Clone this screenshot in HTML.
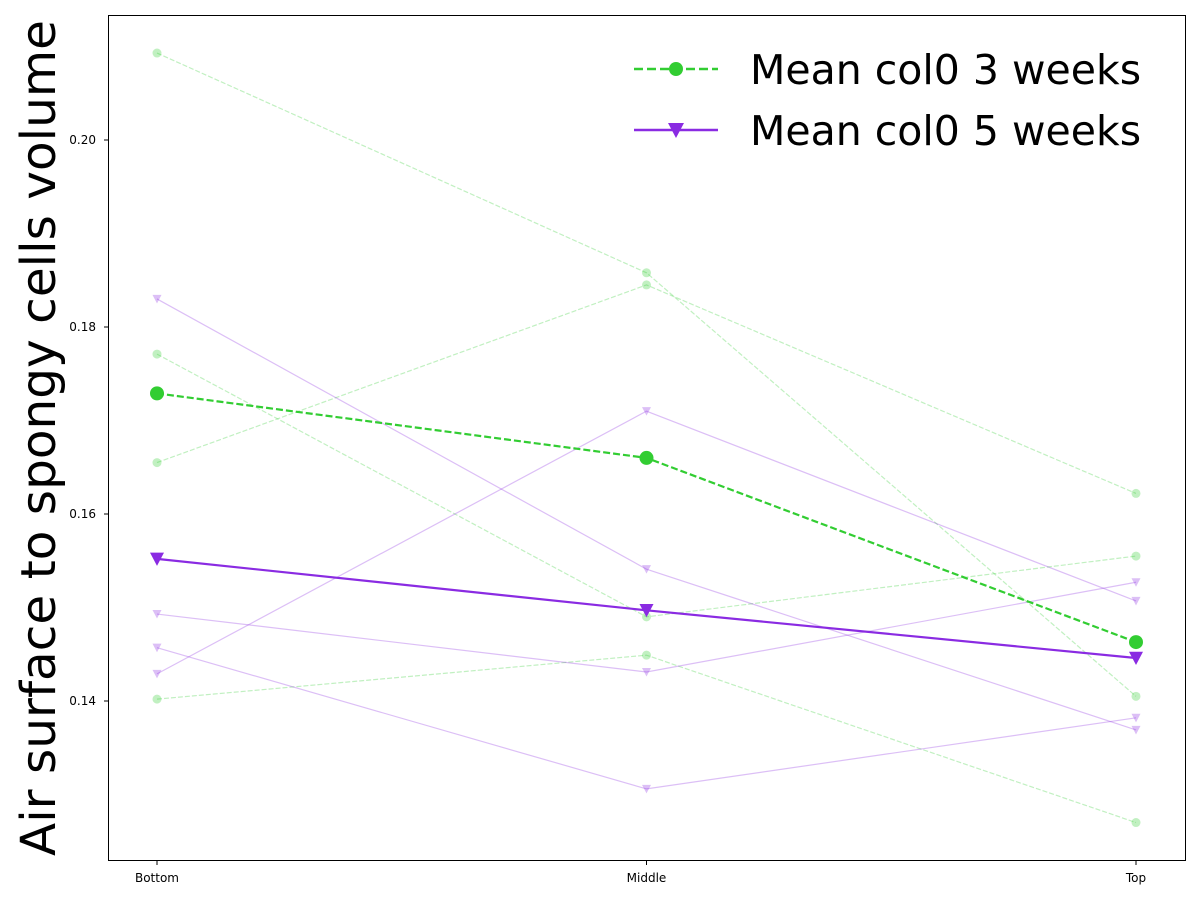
<!DOCTYPE html>
<html><head><meta charset="utf-8"><style>
body{margin:0;background:#fff;}
svg{display:block;font-family:"DejaVu Sans","Liberation Sans",sans-serif;}
</style></head><body>
<svg id="chart" width="1200" height="900" xmlns="http://www.w3.org/2000/svg">
<rect x="0" y="0" width="1200" height="900" fill="#fff"/>
<g id="plot"></g>
<rect x="108.5" y="15.5" width="1077" height="845" fill="none" stroke="#000" stroke-width="1"/>
<text transform="translate(55,438) rotate(-90)" text-anchor="middle" font-size="48.5">Air surface to spongy cells volume</text>
<g>
<g>
<line x1="634" y1="69" x2="718" y2="69" stroke="#32cd32" stroke-width="2.5" stroke-dasharray="9,4"/>
<circle cx="676" cy="69" r="7" fill="#32cd32"/>
<text x="750" y="84" font-size="41">Mean col0 3 weeks</text>
</g>
<g>
<line x1="634" y1="130" x2="718" y2="130" stroke="#8a2be2" stroke-width="2.5"/>
<path d="M668,123 L684,123 L676,138 Z" fill="#8a2be2"/>
<text x="750" y="145" font-size="41">Mean col0 5 weeks</text>
</g>
</g>
</svg>
<script>
const categories=["Bottom","Middle","Top"];
const yTicks=[0.14,0.16,0.18,0.20];
const green1=[0.2093,0.1858,0.1405];
const green2=[0.1655,0.1845,0.1622];
const green3=[0.1771,0.1490,0.1555];
const green4=[0.1402,0.1449,0.1270];
const greenMean=[0.1729,0.1660,0.1463];
const purple1=[0.1830,0.1541,0.1369];
const purple2=[0.1429,0.1710,0.1507];
const purple3=[0.1493,0.1431,0.1527];
const purple4=[0.1457,0.1306,0.1382];
const purpleMean=[0.1552,0.1497,0.1446];

const NS="http://www.w3.org/2000/svg";
const g=document.getElementById('plot');
function xs(i){return 157+i*489.5;}
function ys(v){return 701-(v-0.14)*9350;}
function mk(t,a){const e=document.createElementNS(NS,t);for(const k in a)e.setAttribute(k,a[k]);g.appendChild(e);return e;}

yTicks.forEach(t=>{
  const l=mk('line',{x1:104,x2:108,y1:ys(t),y2:ys(t),stroke:'#000'});
  
  
  const tx=mk('text',{x:96,y:ys(t)+4,'text-anchor':'end','font-size':12});
  
  
  tx.textContent=t.toFixed(2);
});
categories.forEach((c,i)=>{
  const l=mk('line',{x1:xs(i),x2:xs(i),y1:861,y2:865,stroke:'#000'});
  
  
  const tx=mk('text',{x:xs(i),y:882,'text-anchor':'middle','font-size':12});
  
  
  tx.textContent=c;
});

function series(vals,color,dash,width,marker,size,op,name){
  const pts=vals.map((v,i)=>xs(i)+','+ys(v)).join(' ');
  const pl=mk('polyline',{points:pts,fill:'none',stroke:color,'stroke-width':width,'stroke-dasharray':dash,opacity:op});
  
  
  vals.forEach((v,i)=>{
    const x=xs(i),y=ys(v);let m;
    if(marker==='o')m=mk('circle',{cx:x,cy:y,r:size,fill:color,opacity:op});
    else m=mk('path',{d:`M${x-size},${y-size*0.9} L${x+size},${y-size*0.9} L${x},${y+size} Z`,fill:color,opacity:op});
    
    
  });
}
[green1,green2,green3,green4].forEach((s,k)=>series(s,'#32cd32','5,2',1.2,'o',4.5,0.3,'green-sample-'+(k+1)));
[purple1,purple2,purple3,purple4].forEach((s,k)=>series(s,'#8a2be2','',1.2,'v',4.5,0.3,'purple-sample-'+(k+1)));
series(greenMean,'#32cd32','7,3',2.2,'o',7,1,'green-mean');
series(purpleMean,'#8a2be2','',2.2,'v',7,1,'purple-mean');
</script>
</body></html>
